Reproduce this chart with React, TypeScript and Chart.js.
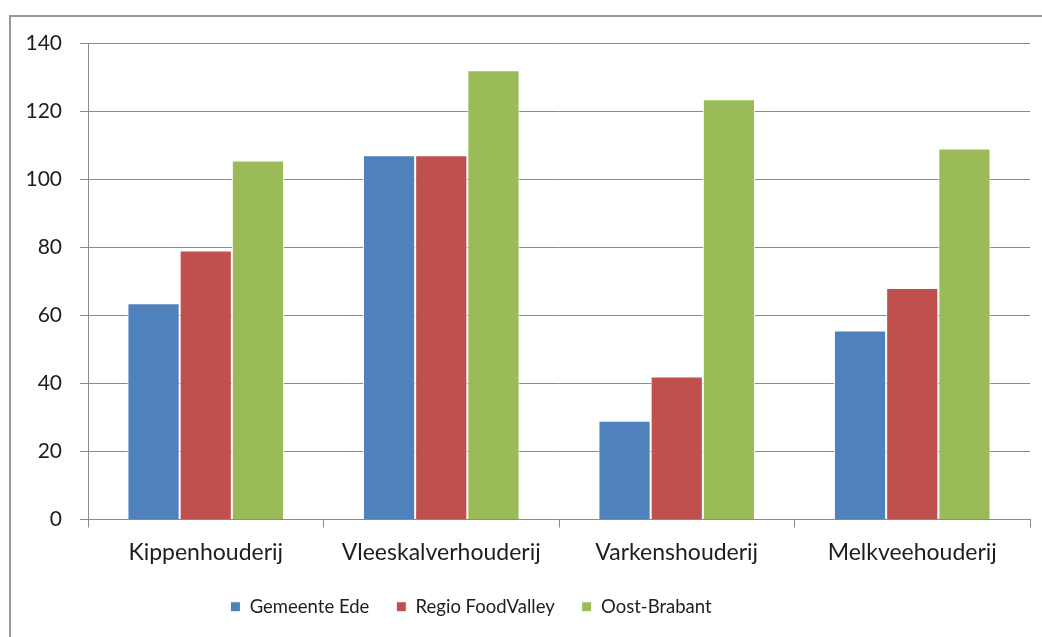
import React, { useEffect, useRef } from "react";
import { Chart, registerables } from "chart.js";

Chart.register(...registerables);

const categories = ["Kippenhouderij", "Vleeskalverhouderij", "Varkenshouderij", "Melkveehouderij"];
const seriesNames = ["Gemeente Ede", "Regio FoodValley", "Oost-Brabant"];
const gemeenteEde = [63.5, 107, 29, 55.5];
const regioFoodValley = [79, 107, 42, 68];
const oostBrabant = [105.5, 132, 123.5, 109];
const seriesColors = ["#4F81BD", "#C0504D", "#9BBB59"];
const yMin = 0;
const yMax = 140;
const yStep = 20;

const FONT = "Lato, 'Open Sans', sans-serif";
const TEXT = "#1e1e1e";

const legendShift = {
  id: "legendShift",
  afterLayout(chart: any) {
    const lg = chart.legend;
    if (!lg) return;
    lg.left -= 44;
    lg.right -= 44;
  },
};

export default function App() {
  const ref = useRef<HTMLCanvasElement | null>(null);

  useEffect(() => {
    if (!ref.current) return;
    const values = [gemeenteEde, regioFoodValley, oostBrabant];
    const chart = new Chart(ref.current, {
      type: "bar",
      data: {
        labels: categories,
        datasets: seriesNames.map((name, i) => ({
          label: name,
          data: values[i],
          backgroundColor: seriesColors[i],
          borderColor: "#ffffff",
          borderWidth: 1,
          categoryPercentage: 0.665,
          barPercentage: 1,
        })),
      },
      plugins: [legendShift],
      options: {
        animation: false,
        responsive: false,
        devicePixelRatio: 1,
        layout: { padding: { top: 43, right: 12, left: 0, bottom: 11 } },
        plugins: {
          tooltip: { enabled: false },
          legend: {
            position: "bottom",
            labels: {
              boxWidth: 10,
              boxHeight: 10,
              padding: 27,
              color: TEXT,
              font: { family: FONT, size: 18.5 },
            },
          },
        },
        scales: {
          x: {
            offset: true,
            grid: {
              offset: true,
              drawOnChartArea: false,
              drawTicks: true,
              tickLength: 8,
              color: "#8a8a8a",
            },
            border: { color: "#8a8a8a", width: 1 },
            ticks: {
              color: TEXT,
              padding: 11,
              font: { family: FONT, size: 23 },
            },
            afterFit: (s: any) => {
              s.height = 51;
            },
          },
          y: {
            min: yMin,
            max: yMax,
            ticks: {
              stepSize: yStep,
              color: TEXT,
              padding: 18,
              font: { family: FONT, size: 21 },
            },
            grid: {
              color: "#8a8a8a",
              tickLength: 8,
            },
            border: { color: "#8a8a8a", width: 1 },
            afterFit: (s: any) => {
              s.width = 88;
            },
          },
        },
      },
    });
    return () => chart.destroy();
  }, []);

  return (
    <div style={{ position: "fixed", left: 0, top: 0, width: 1042, height: 637, background: "#fff", overflow: "hidden" }}>
      <div
        style={{
          position: "absolute",
          left: 9,
          top: 15,
          width: 1100,
          height: 700,
          border: "2px solid #9a9a9a",
          boxSizing: "border-box",
        }}
      />
      <canvas ref={ref} width={1042} height={637} style={{ position: "absolute", left: 0, top: 0, width: 1042, height: 637 }} />
    </div>
  );
}
